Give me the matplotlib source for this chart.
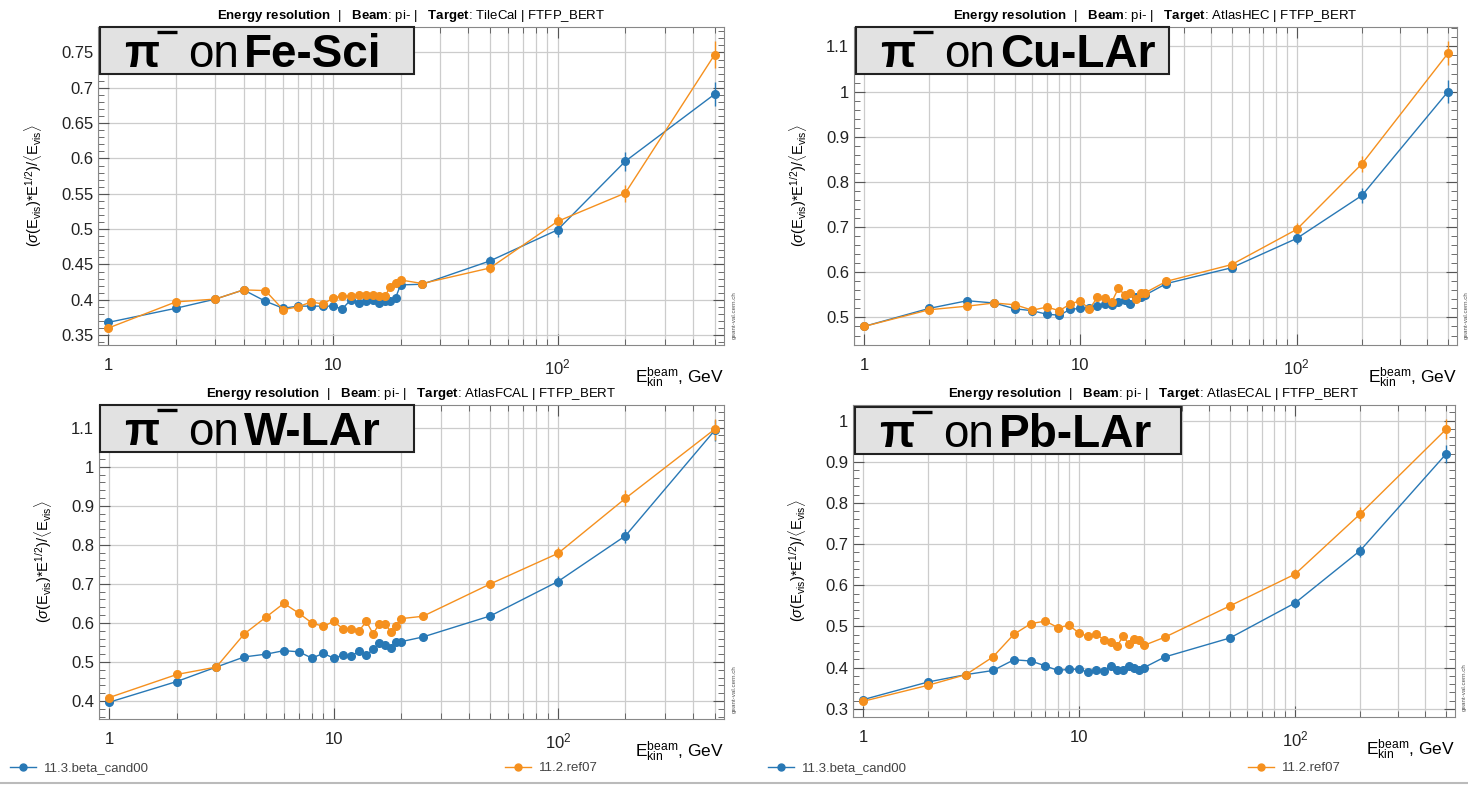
import matplotlib
matplotlib.use("Agg")
import matplotlib.pyplot as plt
from matplotlib.lines import Line2D
from matplotlib.patches import Rectangle
from matplotlib.ticker import FixedLocator, FixedFormatter, MultipleLocator, FuncFormatter

plt.rcParams['font.family'] = ['Liberation Sans', 'DejaVu Sans']
plt.rcParams['mathtext.fontset'] = 'custom'
plt.rcParams['mathtext.rm'] = 'Liberation Sans'
plt.rcParams['mathtext.it'] = 'Liberation Sans:italic'
plt.rcParams['mathtext.bf'] = 'Liberation Sans:bold'

# beam kinetic energies, GeV
energies = [1, 2, 3, 4, 5, 6, 7, 8, 9, 10, 11, 12, 13, 14, 15, 16, 17, 18, 19, 20,
            25, 50, 100, 200, 500]
# relative statistical error
err_frac = [0.015, 0.01, 0.01, 0.01, 0.01, 0.01, 0.01, 0.01, 0.01, 0.01, 0.01, 0.01, 0.01,
            0.01, 0.01, 0.01, 0.01, 0.01, 0.01, 0.01, 0.012, 0.015, 0.02, 0.022, 0.025]

series_names = ['11.3.beta_cand00', '11.2.ref07']
targets = ['TileCal', 'AtlasHEC', 'AtlasFCAL', 'AtlasECAL']
materials = ['Fe-Sci', 'Cu-LAr', 'W-LAr', 'Pb-LAr']

fesci_new = [0.368, 0.388, 0.401, 0.414, 0.398, 0.388, 0.391, 0.391, 0.391, 0.391, 0.387,
             0.400, 0.395, 0.398, 0.400, 0.395, 0.398, 0.398, 0.403, 0.421, 0.422,
             0.455, 0.499, 0.596, 0.691]
fesci_ref = [0.360, 0.397, 0.401, 0.414, 0.413, 0.386, 0.390, 0.397, 0.394, 0.402, 0.406,
             0.405, 0.407, 0.407, 0.407, 0.405, 0.405, 0.418, 0.424, 0.428, 0.423,
             0.445, 0.511, 0.551, 0.747]

cular_new = [0.480, 0.520, 0.537, 0.532, 0.519, 0.515, 0.507, 0.505, 0.518, 0.520, 0.520,
             0.525, 0.530, 0.528, 0.535, 0.538, 0.530, 0.545, 0.545, 0.550, 0.575,
             0.610, 0.675, 0.770, 1.000]
cular_ref = [0.480, 0.517, 0.525, 0.532, 0.528, 0.516, 0.523, 0.515, 0.530, 0.537, 0.518,
             0.545, 0.542, 0.535, 0.565, 0.550, 0.555, 0.540, 0.555, 0.555, 0.580,
             0.617, 0.695, 0.840, 1.085]

wlar_new = [0.397, 0.450, 0.487, 0.513, 0.520, 0.529, 0.526, 0.510, 0.522, 0.510, 0.517,
            0.515, 0.528, 0.517, 0.533, 0.548, 0.543, 0.535, 0.550, 0.552, 0.564,
            0.618, 0.706, 0.823, 1.093]
wlar_ref = [0.409, 0.468, 0.487, 0.572, 0.615, 0.650, 0.625, 0.600, 0.591, 0.604, 0.585,
            0.585, 0.580, 0.604, 0.572, 0.598, 0.596, 0.578, 0.593, 0.611, 0.617,
            0.700, 0.778, 0.919, 1.096]

pblar_new = [0.322, 0.365, 0.383, 0.393, 0.419, 0.416, 0.404, 0.393, 0.396, 0.396, 0.389,
             0.393, 0.392, 0.403, 0.393, 0.395, 0.405, 0.400, 0.395, 0.400, 0.426,
             0.472, 0.557, 0.684, 0.919]
pblar_ref = [0.318, 0.357, 0.383, 0.426, 0.481, 0.507, 0.513, 0.497, 0.503, 0.484, 0.476,
             0.482, 0.468, 0.462, 0.452, 0.476, 0.458, 0.470, 0.466, 0.454, 0.474,
             0.550, 0.627, 0.773, 0.979]

panel_data = [(fesci_new, fesci_ref), (cular_new, cular_ref),
              (wlar_new, wlar_ref), (pblar_new, pblar_ref)]

# layout (pixels of the 1468x786 picture): left, top, right, bottom
W, H = 1468, 786
rects_px = [(98, 27, 724, 345), (854, 27, 1457, 345),
            (99, 405, 724, 719), (853, 405, 1455, 717)]
ylims = [(0.336, 0.786), (0.439, 1.143), (0.354, 1.158), (0.280, 1.038)]
ymajor = [0.05, 0.1, 0.1, 0.1]
box_px = [(100, 27, 414, 74), (856, 27, 1169, 74), (100, 405, 414, 452), (855, 407, 1181, 454)]

BLUE = '#2878b5'
ORANGE = '#f5901e'
GRID = '#cccccc'

fig = plt.figure(figsize=(W / 100, H / 100), dpi=100)


def px_rect(l, t, r, b):
    return [l / W, 1 - b / H, (r - l) / W, (b - t) / H]


def draw_panel(i):
    ax = fig.add_axes(px_rect(*rects_px[i]))
    new, ref = panel_data[i]
    for y, c in ((new, BLUE), (ref, ORANGE)):
        yerr = [v * f for v, f in zip(y, err_frac)]
        ax.errorbar(energies, y, yerr=yerr, fmt='o-', color=c, ms=5.5, lw=1.0,
                    elinewidth=1.0, capsize=0, zorder=3)

    ax.set_xscale('log')
    ax.set_xlim(0.9, 550)
    ax.set_ylim(*ylims[i])
    ax.xaxis.set_major_locator(FixedLocator([1, 10, 100]))
    ax.xaxis.set_major_formatter(FixedFormatter(['1', '10', r'$10^2$']))
    ax.yaxis.set_major_locator(MultipleLocator(ymajor[i]))
    ax.yaxis.set_minor_locator(MultipleLocator(ymajor[i] / 5))
    ax.yaxis.set_major_formatter(FuncFormatter(lambda v, p: '%g' % round(v, 3)))
    ax.grid(True, which='major', color=GRID, lw=0.9)
    ax.grid(True, which='minor', axis='x', color=GRID, lw=0.9)
    ax.tick_params(which='both', direction='in', top=True, right=True,
                   colors='#555555', labelcolor='#222222', labelsize=12)
    ax.tick_params(which='major', length=8)
    ax.tick_params(which='minor', length=4)
    ax.tick_params(axis='x', pad=9)
    for s in ax.spines.values():
        s.set_color('#888888')
        s.set_linewidth(0.8)

    ax.set_ylabel(r'$(\sigma(\mathrm{E_{vis}})$*$\mathrm{E}^{1/2})/\langle\mathrm{E_{vis}}\rangle$',
                  fontsize=10.5, labelpad=12)
    ax.text(1.0, -0.065, r'$\mathrm{E_{kin}^{beam}}$, GeV', transform=ax.transAxes,
            ha='right', va='top', fontsize=12.5)
    ax.set_title(r'$\mathbf{Energy\ resolution}$  |   $\mathbf{Beam}$: pi- |   '
                 r'$\mathbf{Target}$: ' + targets[i] + ' | FTFP_BERT',
                 fontsize=9.5, pad=6)
    ax.text(1.012, 0.02, 'geant-val.cern.ch', transform=ax.transAxes, rotation=90,
            fontsize=4.5, color='#555555', ha='left', va='bottom')

    # label box: "π⁻ on <material>"
    l, t, r, b = box_px[i]
    fig.add_artist(Rectangle((l / W, 1 - b / H), (r - l) / W, (b - t) / H,
                             transform=fig.transFigure, facecolor='#e2e2e2',
                             edgecolor='#222222', lw=1.5, zorder=5))
    base = 1 - (b - 7) / H
    x0 = l + 24
    fig.text(x0 / W, base, 'π', fontsize=33, weight='bold', va='baseline', zorder=6)
    # the minus sign of π⁻, drawn as a raised bar
    fig.add_artist(Line2D([(x0 + 33) / W, (x0 + 53) / W], [1 - (t + 5) / H] * 2,
                          transform=fig.transFigure, color='black', lw=2.4,
                          solid_capstyle='butt', zorder=6))
    fig.text((x0 + 64) / W, base, 'on', fontsize=33, va='baseline', zorder=6)
    fig.text((x0 + 120) / W, base, materials[i], fontsize=33, weight='bold',
             va='baseline', zorder=6)
    return ax


axes = [draw_panel(i) for i in range(4)]

# legend entries along the bottom
legend_pos = [(10, BLUE, series_names[0]), (505, ORANGE, series_names[1]),
              (768, BLUE, series_names[0]), (1248, ORANGE, series_names[1])]
for x, c, name in legend_pos:
    h = Line2D([], [], color=c, marker='o', ms=5, lw=1)
    fig.legend(handles=[h], labels=[name], loc='center left',
               bbox_to_anchor=(x / W, 1 - 768 / H), frameon=False, fontsize=9.5,
               handlelength=2.0, handletextpad=0.6, borderaxespad=0, borderpad=0,
               labelcolor='#444444')

fig.add_artist(Line2D([0, 1], [1 - 783 / H] * 2, transform=fig.transFigure,
                      color='#bbbbbb', lw=1.5))

fig.savefig('out.png', dpi=100)
